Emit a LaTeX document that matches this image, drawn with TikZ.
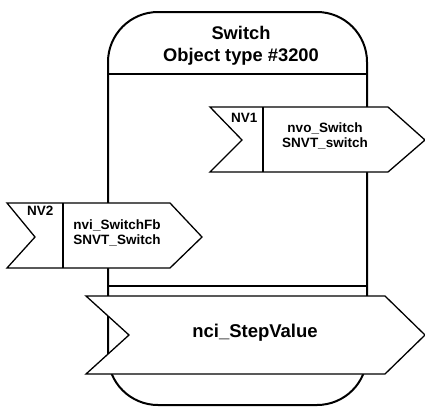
\documentclass[tikz,border=0pt]{standalone}
\usepackage{fontspec}
\setmainfont{Liberation Sans}
\usetikzlibrary{calc}

\tikzset{
  title/.style={font=\bfseries\fontsize{18.3}{22}\selectfont, align=center, inner sep=0pt},
  nvtext/.style={font=\bfseries\fontsize{13.5}{15}\selectfont, align=center, inner sep=0pt},
  nvtag/.style={font=\bfseries\fontsize{13.5}{15}\selectfont, anchor=base west, inner sep=0pt},
  body/.style={line width=2pt},
  chevron/.style={line width=1.3pt, fill=white, line join=miter}
}

\begin{document}
\begin{tikzpicture}[x=1pt, y=-1pt]
\useasboundingbox (0,0) rectangle (425,408);

\coordinate (TL) at (108,12);
\coordinate (BR) at (367,405);

% object body
\draw[body, fill=white, rounded corners=50pt] (TL) rectangle (BR);
\draw[body] ($(TL) + (0,62)$) to ($(BR) + (0,-331)$);
\draw[body] ($(TL) + (0,274)$) to ($(BR) + (0,-119)$);
\node[title] (title) at (241,46) {Switch\\Object type \#3200};

% NV1 output
\coordinate (A) at (210,107);
\draw[chevron] (A) to ($(A) + (178,0)$) to ($(A) + (215,33)$) to ($(A) + (178,65)$)
  to ($(A) + (0,65)$) to ($(A) + (32,33)$) to cycle;
\draw[line width=1.3pt] ($(A) + (53,0)$) to ($(A) + (53,65)$);
\node[nvtag] (nvone) at (231,122) {NV1};
\node[nvtext] (nvo) at (325,136) {nvo\_Switch\\SNVT\_switch};

% NV2 input
\coordinate (B) at (7,203);
\draw[chevron] (B) to ($(B) + (163,0)$) to ($(B) + (195,34)$) to ($(B) + (163,65)$)
  to ($(B) + (0,65)$) to ($(B) + (28,34)$) to cycle;
\draw[line width=1.3pt] ($(B) + (56,0)$) to ($(B) + (56,65)$);
\node[nvtag] (nvtwo) at (27,215) {NV2};
\node[nvtext] (nvi) at (117,233) {nvi\_SwitchFb\\SNVT\_Switch};

% config property
\coordinate (C) at (86,296);
\draw[chevron] (C) to ($(C) + (299,0)$) to ($(C) + (339,39)$) to ($(C) + (299,78)$)
  to ($(C) + (0,78)$) to ($(C) + (43,39)$) to cycle;
\node[nvtext, font=\bfseries\fontsize{18.5}{20}\selectfont] (nci) at (255,333) {nci\_StepValue};
\end{tikzpicture}
\end{document}
